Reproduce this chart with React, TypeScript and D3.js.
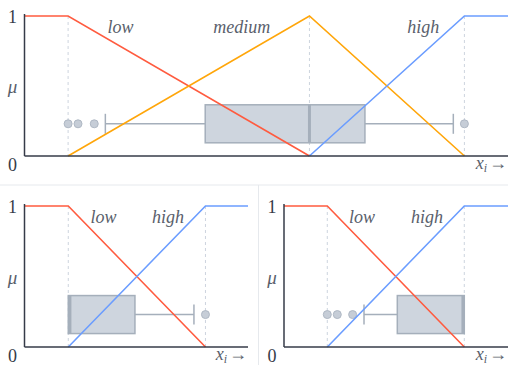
import React from "react";
import * as d3 from "d3";

// ---------- DATA ----------
type Pt = { x: number; mu: number };

// top panel: three fuzzy sets (breakpoints at min, median, max)
const topDomain = [-1.1, 11.1];
const topLow: Pt[] = [{ x: -1.1, mu: 1 }, { x: 0, mu: 1 }, { x: 6.09, mu: 0 }];
const topMedium: Pt[] = [{ x: 0, mu: 0 }, { x: 6.09, mu: 1 }, { x: 10, mu: 0 }];
const topHigh: Pt[] = [{ x: 6.09, mu: 0 }, { x: 10, mu: 1 }, { x: 11.1, mu: 1 }];
const topBreaks = [0, 6.09, 10];
const topLabels = ["low", "medium", "high"];
const topLabelX = [1.32, 4.38, 8.96];
const topBox = { lo: 0.94, q1: 3.46, median: 6.09, q3: 7.49, hi: 9.72 };
const topOutliers = [0, 0.25, 0.66, 10];

// bottom-left panel: two fuzzy sets
const blDomain = [-3.19, 13.1];
const blLow: Pt[] = [{ x: -3.19, mu: 1 }, { x: 0, mu: 1 }, { x: 10, mu: 0 }];
const blHigh: Pt[] = [{ x: 0, mu: 0 }, { x: 10, mu: 1 }, { x: 13.1, mu: 1 }];
const blBreaks = [0, 10];
const blLabels = ["low", "high"];
const blLabelX = [2.57, 7.27];
const blBox = { lo: 0, q1: 0, median: 0.12, q3: 4.86, hi: 9.16 };
const blOutliers = [10];

// bottom-right panel: two fuzzy sets
const brDomain = [-3.16, 13.19];
const brLow: Pt[] = [{ x: -3.16, mu: 1 }, { x: 0, mu: 1 }, { x: 10, mu: 0 }];
const brHigh: Pt[] = [{ x: 0, mu: 0 }, { x: 10, mu: 1 }, { x: 13.19, mu: 1 }];
const brBreaks = [0, 10];
const brLabels = ["low", "high"];
const brLabelX = [2.53, 7.28];
const brBox = { lo: 2.68, q1: 5.11, median: 9.9, q3: 10, hi: 10 };
const brOutliers = [0, 0.73, 1.85];

const muBox = 0.23;

// ---------- STYLE ----------
const RED = "#ff5b3f";
const ORANGE = "#ffa60a";
const BLUE = "#6b9dff";
const AXIS = "#363b48";
const TEXT = "#5a5f6c";
const BOX_FILL = "#ced5de";
const BOX_STROKE = "#a5afbb";
const OUT_FILL = "#c6cdd7";
const OUT_STROKE = "#afb8c4";
const DASH = "#cdd4de";
const SEP = "#e6e9ed";
const FONT = "Liberation Serif, DejaVu Serif, serif";

type PanelProps = {
  domain: number[];
  xr: [number, number];
  yr: [number, number];
  series: Pt[][];
  colors: string[];
  breaks: number[];
  labels: string[];
  labelX: number[];
  box: { lo: number; q1: number; median: number; q3: number; hi: number };
  outliers: number[];
};

function Panel(p: PanelProps) {
  const x = d3.scaleLinear().domain(p.domain).range(p.xr);
  const y = d3.scaleLinear().domain([0, 1]).range(p.yr);
  const line = d3
    .line<Pt>()
    .x((d) => x(d.x))
    .y((d) => y(d.mu));
  const by = y(muBox);
  const bh = 38;
  const cap = 10;
  const b = p.box;
  const serif = { fontFamily: FONT };
  return (
    <g>
      {p.breaks.map((v, i) => (
        <line
          key={"d" + i}
          x1={x(v)}
          x2={x(v)}
          y1={y(1)}
          y2={y(0)}
          stroke={DASH}
          strokeWidth={1}
          strokeDasharray="3,3"
        />
      ))}
      {/* box plot */}
      {b.lo < b.q1 && (
        <g>
          <line x1={x(b.lo)} x2={x(b.q1)} y1={by} y2={by} stroke={BOX_STROKE} strokeWidth={1.5} />
          <line x1={x(b.lo)} x2={x(b.lo)} y1={by - cap} y2={by + cap} stroke={BOX_STROKE} strokeWidth={1.5} />
        </g>
      )}
      {b.hi > b.q3 && (
        <g>
          <line x1={x(b.q3)} x2={x(b.hi)} y1={by} y2={by} stroke={BOX_STROKE} strokeWidth={1.5} />
          <line x1={x(b.hi)} x2={x(b.hi)} y1={by - cap} y2={by + cap} stroke={BOX_STROKE} strokeWidth={1.5} />
        </g>
      )}
      <rect
        x={x(b.q1)}
        y={by - bh / 2}
        width={x(b.q3) - x(b.q1)}
        height={bh}
        fill={BOX_FILL}
        stroke={BOX_STROKE}
        strokeWidth={1.5}
      />
      <line x1={x(b.median)} x2={x(b.median)} y1={by - bh / 2} y2={by + bh / 2} stroke={BOX_STROKE} strokeWidth={3} />
      {p.outliers.map((v, i) => (
        <circle key={"o" + i} cx={x(v)} cy={by} r={4} fill={OUT_FILL} stroke={OUT_STROKE} strokeWidth={1} />
      ))}
      {/* membership functions */}
      {p.series.map((s, i) => (
        <path key={"s" + i} d={line(s) || ""} fill="none" stroke={p.colors[i]} strokeWidth={1.6} />
      ))}
      {/* labels */}
      {p.labels.map((t, i) => (
        <text
          key={"l" + i}
          x={x(p.labelX[i])}
          y={y(1) + 17}
          textAnchor="middle"
          style={{ ...serif, fontStyle: "italic", fontSize: 18 }}
          fill={TEXT}
        >
          {t}
        </text>
      ))}
      {/* axes */}
      <line x1={p.xr[0]} x2={p.xr[0]} y1={y(1) - 2} y2={y(0)} stroke={AXIS} strokeWidth={1.5} />
      <line x1={p.xr[0]} x2={p.xr[1]} y1={y(0)} y2={y(0)} stroke={AXIS} strokeWidth={1.5} />
      <text x={p.xr[0] - 12} y={y(1) + 6.5} textAnchor="middle" style={{ ...serif, fontSize: 18 }} fill={AXIS}>
        1
      </text>
      <text x={p.xr[0] - 12} y={y(0) + 14.5} textAnchor="middle" style={{ ...serif, fontSize: 18 }} fill={AXIS}>
        0
      </text>
      <text
        x={p.xr[0] - 12}
        y={(y(0) + y(1)) / 2 + 7}
        textAnchor="middle"
        style={{ ...serif, fontStyle: "italic", fontSize: 19 }}
        fill={TEXT}
      >
        μ
      </text>
      <text x={p.xr[1] - 1} y={y(0) + 13} textAnchor="end" style={serif} fill={TEXT}>
        <tspan style={{ fontStyle: "italic", fontSize: 18 }}>x</tspan>
        <tspan style={{ fontStyle: "italic", fontSize: 12 }} dy={3}>i</tspan>
        <tspan style={{ fontSize: 18 }} dx={2} dy={-3}>→</tspan>
      </text>
    </g>
  );
}

export default function App() {
  return (
    <svg
      width={508}
      height={365}
      style={{ position: "absolute", left: 0, top: 0, background: "#fff", fontFamily: FONT }}
    >
      <line x1={0} x2={508} y1={185} y2={185} stroke={SEP} strokeWidth={1} />
      <line x1={258.5} x2={258.5} y1={185} y2={365} stroke={SEP} strokeWidth={1} />
      <Panel
        domain={topDomain}
        xr={[24.5, 508]}
        yr={[156, 16]}
        series={[topLow, topMedium, topHigh]}
        colors={[RED, ORANGE, BLUE]}
        breaks={topBreaks}
        labels={topLabels}
        labelX={topLabelX}
        box={topBox}
        outliers={topOutliers}
      />
      <Panel
        domain={blDomain}
        xr={[24.5, 248]}
        yr={[347, 206]}
        series={[blLow, blHigh]}
        colors={[RED, BLUE]}
        breaks={blBreaks}
        labels={blLabels}
        labelX={blLabelX}
        box={blBox}
        outliers={blOutliers}
      />
      <Panel
        domain={brDomain}
        xr={[284, 508]}
        yr={[347, 206]}
        series={[brLow, brHigh]}
        colors={[RED, BLUE]}
        breaks={brBreaks}
        labels={brLabels}
        labelX={brLabelX}
        box={brBox}
        outliers={brOutliers}
      />
    </svg>
  );
}
